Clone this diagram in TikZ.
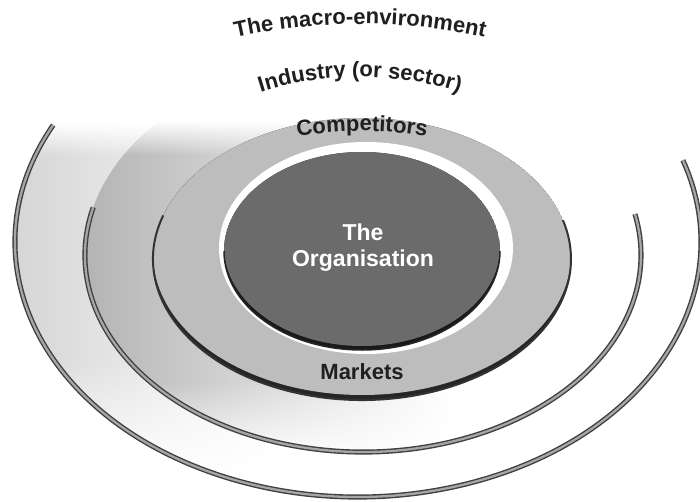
\documentclass[tikz,border=0pt]{standalone}
\usepackage{fontspec}
\setmainfont{Liberation Sans}
\usetikzlibrary{decorations.text}
\usetikzlibrary{fadings}

\definecolor{coregray}{gray}{0.42}
\definecolor{ringgray}{gray}{0.74}
\definecolor{inkgray}{gray}{0.12}

\begin{document}
\begin{tikzpicture}[x=10pt,y=10pt,
    rimline/.style={draw=black!75, line width=1.4pt, double=black!35, double distance=2.3pt},
    arctext/.style={decorate, decoration={text along path, text align=center,
        text={|\bfseries\fontsize{22}{26}\selectfont\color{inkgray}|#1}}}]

  \useasboundingbox (0,0) rectangle (70,50.1);
  \clip (0,0) rectangle (70,50.1);

  \coordinate (M) at (35.8,25.9);
  \coordinate (I) at (36.3,24.6);
  \coordinate (C) at (36.2,24.2);
  \coordinate (H) at (36.6,25.3);
  \coordinate (O) at (36.2,25.0);
  \coordinate (T) at (36.0,22.6);
  \coordinate (K) at (36.2,23.9);

  % light shading of the two outer bands, strongest on the left
  \begin{scope}
    \clip (M) ellipse[x radius=34.3, y radius=25.5];
    \shade[left color=black!17, right color=white] (0,14) rectangle (30,34.6);
    \shade[left color=black!17, right color=white, path fading=north] (0,34.6) rectangle (30,37.8);
    \shade[left color=black!17, right color=white, path fading=south] (0,2) rectangle (30,14);
  \end{scope}
  \fill[white] (I) ellipse[x radius=27.8, y radius=19.7];
  \begin{scope}
    \clip (I) ellipse[x radius=27.8, y radius=19.7];
    \shade[left color=black!30, right color=white] (8,12) rectangle (45,34.6);
    \shade[left color=black!30, right color=white, path fading=north] (8,34.6) rectangle (45,38);
    \shade[left color=black!30, right color=white, path fading=south] (8,4) rectangle (45,12);
  \end{scope}

  % open outer rings
  \draw[rimline] (I) ++(166:27.8 and 19.7) arc[start angle=166, end angle=372, x radius=27.8, y radius=19.7];
  \draw[rimline] (M) ++(152.7:34.3 and 25.5) arc[start angle=152.7, end angle=378.7, x radius=34.3, y radius=25.5];

  % competitors ring
  \begin{scope}
    \clip (C) ellipse[x radius=20.9, y radius=14.1];
    \fill[black!85] (C) ellipse[x radius=20.9, y radius=14.1];
    \fill[ringgray] ([yshift=5pt]C) ellipse[x radius=20.9, y radius=14.1];
  \end{scope}
  \draw[black!80, line width=2pt] (C) ++(162:20.9 and 14.1) arc[start angle=162, end angle=376, x radius=20.9, y radius=14.1];

  \fill[white] (H) ellipse[x radius=14.7, y radius=10.6];

  % the organisation
  \begin{scope}
    \clip (O) ellipse[x radius=13.8, y radius=9.9];
    \fill[black!90] (O) ellipse[x radius=13.8, y radius=9.9];
    \fill[coregray] ([yshift=4pt]O) ellipse[x radius=13.8, y radius=9.9];
  \end{scope}
  \draw[black!85, line width=1.5pt] (O) ++(180:13.8 and 9.9) arc[start angle=180, end angle=360, x radius=13.8, y radius=9.9];

  \path[arctext={The macro-environment}] (T) ++(113:38.4 and 25.1) arc[start angle=113, end angle=67, x radius=38.4, y radius=25.1];
  \path[arctext={Industry (or sector)}] (T) ++(122:25.8 and 19.8) arc[start angle=122, end angle=58, x radius=25.8, y radius=19.8];
  \path[arctext={Competitors}] (K) ++(115:22.6 and 13.1) arc[start angle=115, end angle=65, x radius=22.6, y radius=13.1];

  \node[font=\bfseries\fontsize{23}{26}\selectfont, text=white, align=center] (org) at (36.3,25.3) {The\\Organisation};
  \node[font=\bfseries\fontsize{22}{26}\selectfont, text=inkgray] (markets) at (36.2,12.9) {Markets};
\end{tikzpicture}
\end{document}
